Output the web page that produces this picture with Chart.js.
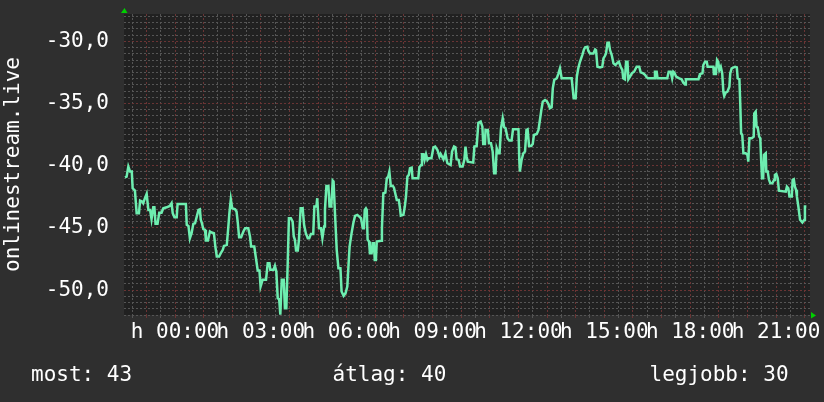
<!DOCTYPE html>
<html>
<head>
<meta charset="utf-8">
<script src="https://cdn.jsdelivr.net/npm/chart.js@4"></script>
<style>
  html, body { margin: 0; padding: 0; background: #2f2f2f; }
  canvas { display: block; }
</style>
</head>
<body>
<canvas id="chart" width="824" height="402"></canvas>
<script>
// hours since midnight (negative = previous evening)
const hours = [
  -1.75, -1.69, -1.63, -1.57, -1.51, -1.48, -1.40, -1.34, -1.26, -1.22, -1.15, -1.11, -1.05, -0.99, -0.93, -0.87,
  -0.82, -0.76, -0.72, -0.68, -0.61, -0.55, -0.47, -0.41, -0.29, -0.18, -0.12, -0.08, -0.02, 0.06, 0.09, 0.38,
  0.41, 0.47, 0.52, 0.58, 0.64, 0.70, 0.76, 0.82, 0.87, 0.90, 0.94, 0.99, 1.05, 1.08, 1.15, 1.22,
  1.28, 1.36, 1.41, 1.46, 1.54, 1.60, 1.67, 1.71, 1.81, 1.86, 1.90, 1.95, 2.00, 2.10, 2.15, 2.19,
  2.24, 2.31, 2.39, 2.45, 2.56, 2.62, 2.66, 2.77, 2.82, 2.89, 2.95, 2.99, 3.06, 3.18, 3.24, 3.30,
  3.33, 3.44, 3.49, 3.54, 3.59, 3.64, 3.68, 3.73, 3.80, 3.84, 3.89, 3.94, 3.98, 4.05, 4.11, 4.15,
  4.19, 4.23, 4.29, 4.33, 4.39, 4.46, 4.51, 4.57, 4.64, 4.69, 4.75, 4.83, 4.87, 4.94, 4.97, 5.03,
  5.10, 5.15, 5.21, 5.24, 5.29, 5.36, 5.40, 5.46, 5.51, 5.54, 5.59, 5.65, 5.71, 5.78, 5.82, 5.89,
  5.96, 6.02, 6.06, 6.10, 6.17, 6.23, 6.29, 6.37, 6.44, 6.50, 6.56, 6.60, 6.63, 6.67, 6.70, 6.73,
  6.78, 6.81, 6.87, 6.91, 6.95, 6.98, 7.02, 7.05, 7.20, 7.23, 7.28, 7.35, 7.40, 7.45, 7.49, 7.54,
  7.61, 7.65, 7.75, 7.82, 7.86, 7.89, 7.98, 8.03, 8.07, 8.12, 8.17, 8.21, 8.27, 8.30, 8.50, 8.54,
  8.60, 8.63, 8.68, 8.72, 8.77, 8.82, 8.86, 8.96, 9.03, 9.09, 9.17, 9.24, 9.28, 9.33, 9.38, 9.45,
  9.49, 9.52, 9.63, 9.68, 9.75, 9.80, 9.84, 9.91, 9.96, 10.05, 10.11, 10.15, 10.19, 10.23, 10.42, 10.46,
  10.54, 10.60, 10.68, 10.74, 10.77, 10.83, 10.85, 10.93, 10.97, 11.04, 11.10, 11.15, 11.20, 11.24, 11.30, 11.34,
  11.39, 11.45, 11.50, 11.55, 11.62, 11.68, 11.76, 11.81, 12.00, 12.03, 12.05, 12.11, 12.17, 12.23, 12.28, 12.32,
  12.37, 12.44, 12.50, 12.54, 12.64, 12.70, 12.75, 12.80, 12.85, 12.93, 12.99, 13.05, 13.10, 13.16, 13.20, 13.25,
  13.34, 13.39, 13.45, 13.51, 13.86, 13.90, 13.93, 14.00, 14.04, 14.09, 14.15, 14.23, 14.29, 14.33, 14.41, 14.44,
  14.50, 14.62, 14.68, 14.71, 14.76, 14.85, 14.93, 14.97, 15.02, 15.06, 15.11, 15.16, 15.20, 15.26, 15.32, 15.39,
  15.46, 15.51, 15.57, 15.63, 15.66, 15.72, 15.76, 15.81, 15.84, 15.90, 15.96, 16.04, 16.13, 16.22, 16.27, 16.36,
  16.43, 16.48, 16.54, 16.74, 16.77, 16.83, 16.86, 17.20, 17.25, 17.32, 17.37, 17.41, 17.45, 17.51, 17.62, 17.70,
  17.76, 17.82, 17.85, 18.29, 18.32, 18.34, 18.43, 18.46, 18.52, 18.58, 18.61, 18.81, 18.83, 18.90, 18.94, 18.98,
  19.02, 19.07, 19.12, 19.16, 19.19, 19.24, 19.30, 19.37, 19.40, 19.45, 19.57, 19.63, 19.66, 19.72, 19.75, 19.78,
  19.82, 19.86, 19.94, 20.00, 20.03, 20.07, 20.15, 20.22, 20.24, 20.29, 20.32, 20.36, 20.41, 20.45, 20.48, 20.51,
  20.55, 20.58, 20.64, 20.66, 20.71, 20.75, 20.80, 20.87, 20.93, 20.96, 21.01, 21.06, 21.10, 21.34, 21.38, 21.43,
  21.47, 21.55, 21.58, 21.62, 21.66, 21.70, 21.73, 21.78, 21.84, 21.92, 21.99, 22.01, 22.06
];

const values = [
  -40.93, -40.87, -40.07, -40.47, -40.47, -41.81, -42.00, -43.82, -43.82, -42.80, -42.88, -43.01, -42.61, -42.26, -43.55, -43.55,
  -44.30, -43.34, -43.34, -44.67, -44.67, -43.77, -43.77, -43.42, -43.34, -43.23, -43.01, -43.82, -44.14, -44.14, -43.07, -43.07,
  -44.75, -44.84, -45.83, -45.42, -44.67, -44.62, -44.09, -43.55, -43.50, -44.35, -44.62, -45.10, -45.16, -46.01, -46.01, -45.29,
  -45.37, -45.42, -46.50, -47.30, -47.30, -47.03, -46.76, -46.44, -46.36, -45.02, -43.82, -42.69, -43.42, -43.50, -43.68, -44.49,
  -45.75, -45.75, -45.29, -45.02, -45.02, -45.69, -46.50, -46.50, -47.30, -48.42, -48.42, -49.71, -49.17, -49.17, -47.83, -47.83,
  -48.37, -48.37, -48.05, -48.50, -50.65, -50.73, -51.98, -49.17, -49.17, -51.45, -51.45, -47.70, -44.22, -44.22, -44.49, -45.69,
  -45.96, -46.82, -46.82, -45.96, -43.42, -43.42, -44.75, -45.42, -45.83, -45.83, -45.48, -45.48, -43.28, -43.28, -42.61, -45.02,
  -45.02, -45.83, -44.89, -43.55, -41.62, -41.62, -43.28, -43.28, -41.19, -41.27, -43.82, -46.76, -48.24, -48.24, -50.11, -50.46,
  -50.24, -49.71, -48.10, -46.50, -45.42, -44.62, -44.03, -43.95, -44.09, -44.22, -45.02, -45.02, -43.55, -43.42, -43.55, -45.96,
  -46.09, -47.03, -47.03, -46.23, -46.23, -47.57, -47.57, -46.09, -46.04, -45.02, -42.21, -42.16, -41.01, -40.87, -40.47, -41.62,
  -41.62, -41.76, -42.75, -42.75, -43.42, -44.01, -43.95, -43.28, -42.48, -40.87, -40.74, -40.20, -40.15, -41.01, -41.01, -40.12,
  -39.94, -39.08, -39.08, -39.53, -39.08, -39.53, -39.40, -39.40, -38.52, -38.46, -38.73, -39.27, -39.05, -39.27, -39.48, -39.00,
  -39.53, -39.80, -39.94, -38.86, -38.46, -38.52, -39.48, -39.53, -40.07, -40.07, -39.53, -38.46, -39.27, -39.67, -39.75, -38.46,
  -38.41, -36.54, -36.45, -36.86, -38.25, -38.25, -37.12, -37.12, -38.20, -38.20, -38.86, -40.60, -40.60, -38.60, -39.00, -39.00,
  -36.99, -36.19, -36.91, -36.99, -37.79, -37.98, -37.98, -37.07, -37.07, -39.53, -40.47, -39.53, -39.00, -38.86, -37.12, -37.07,
  -38.41, -38.41, -38.25, -37.53, -37.45, -37.12, -36.32, -35.52, -34.85, -34.71, -34.80, -35.06, -35.38, -35.30, -33.78, -33.11,
  -32.97, -32.63, -32.17, -32.97, -32.97, -33.91, -34.58, -34.58, -32.84, -32.17, -31.64, -31.10, -30.65, -30.48, -30.43, -30.75,
  -30.97, -30.97, -30.65, -30.70, -32.04, -32.09, -32.04, -31.37, -31.18, -30.97, -30.11, -30.11, -30.70, -31.10, -31.77, -31.90,
  -31.72, -31.64, -32.04, -32.30, -32.97, -33.05, -31.64, -31.64, -33.05, -32.84, -32.57, -32.44, -32.04, -32.04, -32.49, -32.57,
  -32.71, -32.89, -32.97, -32.97, -32.44, -32.44, -32.97, -32.97, -32.44, -32.44, -32.97, -32.44, -32.52, -32.84, -32.97, -33.05,
  -33.32, -33.46, -33.05, -33.05, -32.79, -32.63, -32.57, -31.90, -31.64, -31.64, -32.04, -32.04, -32.63, -32.63, -31.50, -31.64,
  -32.30, -32.04, -32.57, -34.05, -34.39, -34.13, -34.05, -33.64, -32.57, -32.17, -32.04, -32.09, -32.97, -33.05, -34.98, -37.39,
  -37.53, -39.00, -39.00, -39.13, -39.67, -37.79, -37.79, -37.66, -35.79, -35.65, -36.86, -36.91, -37.66, -37.79, -39.53, -41.01,
  -41.01, -39.13, -39.00, -40.47, -40.47, -41.09, -41.41, -41.41, -41.14, -40.74, -40.66, -41.01, -42.00, -42.08, -41.68, -41.81,
  -42.48, -42.48, -41.14, -41.09, -41.68, -41.94, -42.48, -43.28, -44.35, -44.57, -44.35, -43.28, -43.28
];

const axisTitle = 'onlinestream.live';
const statLabels = ['most', 'átlag', 'legjobb'];
const statValues = [43, 40, 30];

const FONT = '"DejaVu Sans Mono", monospace';
const GRID_MINOR = '#555555';
const GRID_MAJOR = '#6a3434';

function isMult(v, m) {
  const r = v / m;
  return Math.abs(r - Math.round(r)) < 1e-6;
}

function pad2(n) {
  return String(n).padStart(2, '0');
}

const background = {
  id: 'background',
  beforeDraw(chart) {
    const { ctx, chartArea: a } = chart;
    ctx.save();
    ctx.fillStyle = '#2f2f2f';
    ctx.fillRect(0, 0, chart.width, chart.height);
    ctx.fillStyle = '#212121';
    ctx.fillRect(a.left, a.top, a.right - a.left, a.bottom - a.top);
    ctx.restore();
  }
};

// green arrow heads at the axis ends + stats line under the plot
const decorations = {
  id: 'decorations',
  afterDraw(chart) {
    const { ctx, chartArea: a } = chart;
    ctx.save();
    ctx.fillStyle = '#00d000';
    ctx.beginPath();
    ctx.moveTo(a.left - 3, a.top - 1);
    ctx.lineTo(a.left + 3.5, a.top - 1);
    ctx.lineTo(a.left + 0.5, a.top - 6);
    ctx.closePath();
    ctx.fill();
    ctx.beginPath();
    ctx.moveTo(a.right + 1, a.bottom - 3);
    ctx.lineTo(a.right + 1, a.bottom + 3.5);
    ctx.lineTo(a.right + 6, a.bottom + 0.5);
    ctx.closePath();
    ctx.fill();

    ctx.fillStyle = '#ffffff';
    ctx.font = '21px ' + FONT;
    ctx.textBaseline = 'alphabetic';
    const xs = [31, 332.5, 649.5];
    statLabels.forEach((label, i) => {
      ctx.fillText(label + ': ' + statValues[i], xs[i], 381);
    });
    ctx.restore();
  }
};

new Chart(document.getElementById('chart'), {
  type: 'line',
  data: {
    datasets: [{
      data: hours.map((h, i) => ({ x: h, y: values[i] })),
      borderColor: '#6eeeb0',
      borderWidth: 2.5,
      pointRadius: 0,
      tension: 0,
      fill: false
    }]
  },
  options: {
    responsive: false,
    animation: false,
    devicePixelRatio: 1,
    events: [],
    layout: { padding: { left: 0, top: 14, right: 14, bottom: 0 } },
    plugins: {
      legend: { display: false },
      tooltip: { enabled: false }
    },
    scales: {
      x: {
        type: 'linear',
        min: -1.782,
        max: 22.187,
        afterFit(scale) {
          scale.height = 87;
          scale.paddingLeft = 0;
          scale.paddingRight = 0;
        },
        ticks: {
          stepSize: 0.5,
          includeBounds: false,
          autoSkip: false,
          maxRotation: 0,
          minRotation: 0,
          padding: 2,
          color: '#ffffff',
          font: { family: FONT, size: 21 },
          callback: v => isMult(v, 3) ? 'h ' + pad2(((Math.round(v) % 24) + 24) % 24) + ':00' : ''
        },
        grid: {
          color: c => (c.tick && isMult(c.tick.value, 1)) ? GRID_MAJOR : GRID_MINOR,
          lineWidth: 1,
          tickLength: 3
        },
        border: { display: false, dash: [2, 2] }
      },
      y: {
        min: -52,
        max: -27.8,
        afterFit(scale) {
          scale.width = 124;
          scale.paddingTop = 0;
          scale.paddingBottom = 0;
        },
        ticks: {
          stepSize: 0.5,
          includeBounds: false,
          autoSkip: false,
          padding: 15,
          color: '#ffffff',
          font: { family: FONT, size: 21 },
          callback: v => isMult(v, 5) ? v.toFixed(1).replace('.', ',') : ''
        },
        grid: {
          color: c => (c.tick && isMult(c.tick.value, 5)) ? GRID_MAJOR : GRID_MINOR,
          lineWidth: 1,
          drawTicks: false
        },
        border: { display: false, dash: [2, 2] },
        title: {
          display: true,
          text: axisTitle,
          color: '#ffffff',
          font: { family: FONT, size: 21 },
          padding: { top: 1, bottom: 0 }
        }
      }
    }
  },
  plugins: [background, decorations]
});
</script>
</body>
</html>
